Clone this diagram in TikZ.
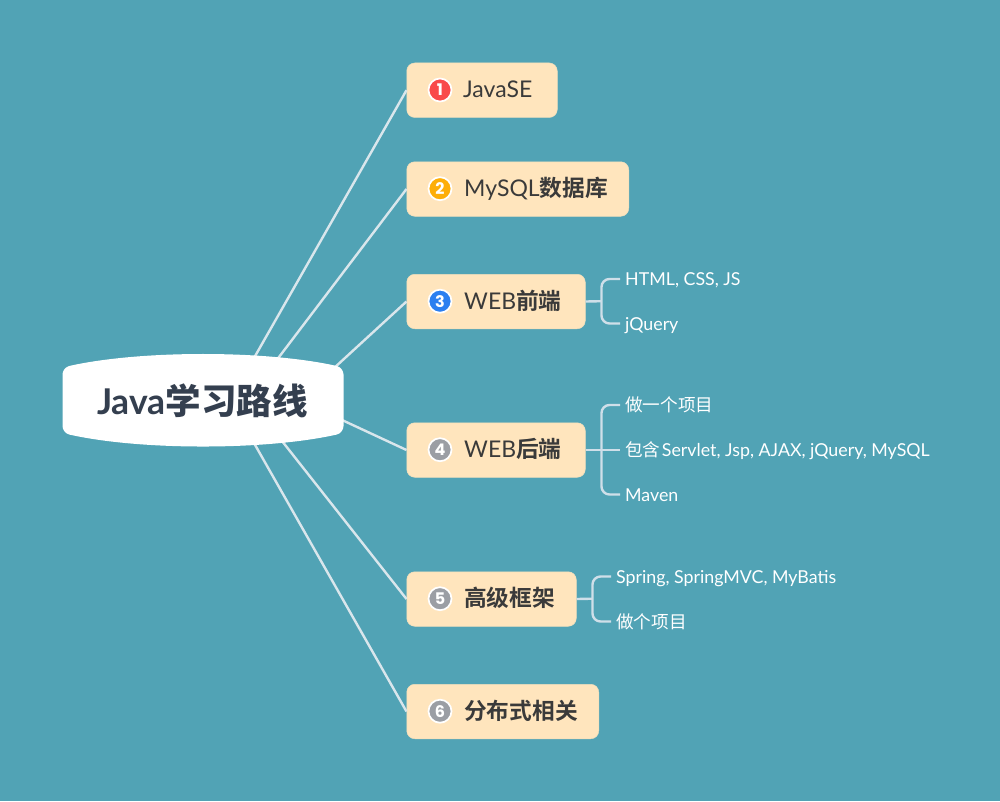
\documentclass[tikz,border=0pt]{standalone}
\usepackage{fontspec}
\setmainfont{Lato}
\newfontfamily\cjkbold{Noto Sans CJK SC Bold}
\newfontfamily\cjkreg{Noto Sans CJK SC}
\newfontfamily\numfont{Poppins}
\definecolor{bgc}{HTML}{51A3B5}
\definecolor{boxc}{HTML}{FFE5BD}
\definecolor{inkc}{HTML}{3A3A3A}
\definecolor{rootc}{HTML}{343F4F}
\definecolor{linkc}{HTML}{D9E6EC}
\definecolor{brc}{HTML}{CFDFE9}
\definecolor{redc}{HTML}{F94A4A}
\definecolor{ambc}{HTML}{FDAE09}
\definecolor{bluc}{HTML}{2B7FF0}
\definecolor{gryc}{HTML}{9B9EA4}
\tikzset{
  topicbox/.style={anchor=north west,fill=boxc,draw=boxc!90!bgc,line width=.5pt,rounded corners=8pt,minimum height=54.5pt,inner sep=0pt},
  topictext/.style={anchor=west,inner sep=0pt,text=inkc,font=\fontsize{23}{27}\selectfont,text height=18pt,text depth=3pt},
  badge/.style={circle,draw=white,line width=1.7pt,minimum size=23pt,inner sep=0pt,text=white,font=\fontsize{16}{16}\numfont\bfseries},
  subtext/.style={anchor=west,inner xsep=5pt,inner ysep=0pt,text=white,font=\fontsize{17.8}{20}\selectfont,text height=15pt,text depth=2pt},
  link/.style={draw=linkc,line width=2.4pt},
  bracket/.style={draw=brc,line width=2.4pt,rounded corners=8pt},
  stem/.style={draw=brc,line width=2.4pt}
}
\newcommand{\zhb}[1]{{\fontsize{22.7}{27}\cjkbold #1}}
\newcommand{\zhr}[1]{{\fontsize{17.6}{20}\cjkreg #1}}
\begin{document}
\begin{tikzpicture}[x=1pt,y=-1pt]
\useasboundingbox (0,0) rectangle (1000,801);
\fill[bgc] (0,0) rectangle (1000,801);
\coordinate (r1) at (254,358);
\coordinate (r2) at (276,361);
\coordinate (r3) at (333,369);
\coordinate (r4) at (342,420);
\coordinate (r5) at (282,441);
\coordinate (r6) at (254,443);
% topic boxes
\node[topicbox,minimum width=150.5pt] (b1) at (406.5,62.7) {};
\node[topicbox,minimum width=222pt] (b2) at (406.5,161.5) {};
\node[topicbox,minimum width=178.5pt] (b3) at (406.5,274) {};
\node[topicbox,minimum width=178.5pt] (b4) at (406.5,422.5) {};
\node[topicbox,minimum width=169.5pt] (b5) at (406.5,571.5) {};
\node[topicbox,minimum width=192pt] (b6) at (406.5,684) {};
% badges
\node[badge,fill=redc] (n1) at (440,90) {1};
\node[badge,fill=ambc] (n2) at (440,188.7) {2};
\node[badge,fill=bluc] (n3) at (440,301.2) {3};
\node[badge,fill=gryc] (n4) at (440,449.7) {4};
\node[badge,fill=gryc] (n5) at (440,598.7) {5};
\node[badge,fill=gryc] (n6) at (440,711.2) {6};
% topic text
\node[topictext] (t1) at (463,90) {JavaSE};
\node[topictext] (t2) at (464,189) {MySQL\zhb{数据库}};
\node[topictext] (t3) at (464,301.5) {WEB\zhb{前端}};
\node[topictext] (t4) at (464,450) {WEB\zhb{后端}};
\node[topictext] (t5) at (464,599) {\zhb{高级框架}};
\node[topictext] (t6) at (464,711.5) {\zhb{分布式相关}};
% sub topics
\node[subtext] (s31) at (620,279) {HTML, CSS, JS};
\node[subtext] (s32) at (620,323.5) {jQuery};
\node[subtext] (s41) at (620,405) {\zhr{做一个项目}};
\node[subtext] (s42) at (620,450) {\zhr{包含}\hspace{-3pt} Servlet, Jsp, AJAX, jQuery, MySQL};
\node[subtext] (s43) at (620,494.5) {Maven};
\node[subtext] (s51) at (611,576.5) {Spring, SpringMVC, MyBatis};
\node[subtext] (s52) at (611,621.5) {\zhr{做个项目}};
% connectors
\draw[link] (r1) -- (b1.west);
\draw[link] (r2) -- (b2.west);
\draw[link] (r3) -- (b3.west);
\draw[link] (r4) -- (b4.west);
\draw[link] (r5) -- (b5.west);
\draw[link] (r6) -- (b6.west);
\coordinate (j3) at (601.5,301.2);
\coordinate (j4) at (601.5,449.7);
\coordinate (j5) at (592.5,598.7);
\draw[stem] (b3.east) -- (j3);
\draw[bracket] (s31.west) -| (j3) |- (s32.west);
\draw[stem] (b4.east) -- (s42.west);
\draw[bracket] (s41.west) -| (j4) |- (s43.west);
\draw[stem] (b5.east) -- (j5);
\draw[bracket] (s51.west) -| (j5) |- (s52.west);
% root
\path[fill=white,rounded corners=7pt] (62.5,367.5) .. controls (140,350) and (266,350) .. (343.5,367.5) -- (343.5,433) .. controls (266,450.5) and (140,450.5) .. (62.5,433) -- cycle;
\node[inner sep=0pt,text=rootc,font=\fontsize{35.5}{40}\selectfont\bfseries] (root) at (202.5,401) {Java\zhb{\fontsize{35.5}{40}\cjkbold 学习路线}};
\end{tikzpicture}
\end{document}
